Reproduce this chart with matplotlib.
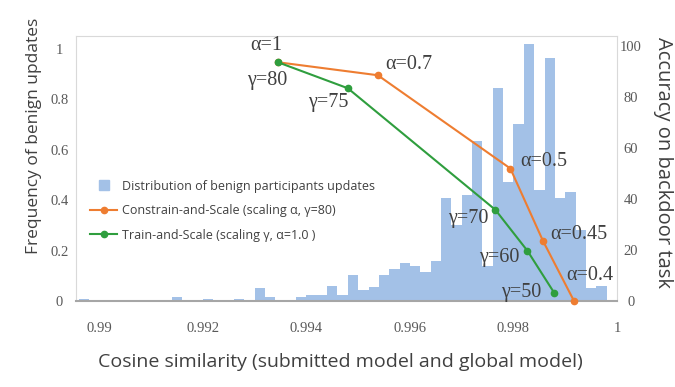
# ----------------------------------------------------------------------------------------------------------------------
#
#       Cosine similarity of benign updates vs. backdoor accuracy
#
# ----------------------------------------------------------------------------------------------------------------------

import numpy as np
import matplotlib.pyplot as plt
from matplotlib.lines import Line2D


# histogram of benign updates (bins of 0.0002 starting at 0.9896)
bin_start = 0.9896
bin_width = 0.0002
freq_benign = [0.007, 0, 0, 0, 0, 0, 0, 0, 0, 0.016,
               0, 0, 0.006, 0, 0, 0.006, 0, 0.053, 0.017, 0,
               0, 0.016, 0.025, 0.025, 0.058, 0.024, 0.104, 0.042, 0.057, 0.105,
               0.125, 0.15, 0.14, 0.113, 0.16, 0.41, 0.30, 0.42, 0.635, 0.14,
               0.843, 0.47, 0.70, 1.02, 0.44, 0.963, 0.41, 0.43, 0.28, 0.05,
               0.06, 0]

# Constrain-and-Scale (scaling alpha, gamma=80)
cs_cos = [0.99345, 0.99538, 0.99794, 0.99857, 0.99917]
cs_acc = [93.7, 88.6, 52.0, 23.6, 0.0]
cs_labels = ['α=1', 'α=0.7', 'α=0.5', 'α=0.45', 'α=0.4']

# Train-and-Scale (scaling gamma, alpha=1.0)
ts_cos = [0.99345, 0.99480, 0.99765, 0.99827, 0.99879]
ts_acc = [93.7, 83.5, 35.8, 19.7, 3.1]
ts_labels = ['γ=80', 'γ=75', 'γ=70', 'γ=60', 'γ=50']

x_ticks = [0.99, 0.992, 0.994, 0.996, 0.998, 1.0]
x_ticklabels = ['0.99', '0.992', '0.994', '0.996', '0.998', '1']
left_ticks = [0, 0.2, 0.4, 0.6, 0.8, 1]
left_ticklabels = ['0', '0.2', '0.4', '0.6', '0.8', '1']
right_ticks = [0, 20, 40, 60, 80, 100]

# label offsets in pixels (text centre relative to point)
cs_offsets = [(-12, 17), (31, 11), (33, 7), (36, 6), (16, 25)]
ts_offsets = [(-11, -18), (-20, -14), (-27, -9), (-28, -7), (-33, 1)]

SANS = 'Open Sans'
SERIF = 'Liberation Serif'
TXT = '#404040'
TICK = '#595959'
BLUE = '#a3c1e7'
ORANGE = '#ee7d31'
GREEN = '#2f9e3e'

fig = plt.figure(figsize=(6.75, 3.87), dpi=100)
ax = fig.add_axes([76 / 675, 1 - 301 / 387, (617 - 76) / 675, (301 - 36) / 387])
ax2 = ax.twinx()

bin_left = bin_start + bin_width * np.arange(len(freq_benign))
ax.bar(bin_left, freq_benign, width=bin_width, align='edge', color=BLUE, linewidth=0)

line_cs, = ax2.plot(cs_cos, cs_acc, color=ORANGE, lw=1.5, marker='o', ms=4.5, clip_on=False)
line_ts, = ax2.plot(ts_cos, ts_acc, color=GREEN, lw=1.5, marker='o', ms=4.5, clip_on=False)

for x, y, t, off in zip(cs_cos, cs_acc, cs_labels, cs_offsets):
    ax2.annotate(t, (x, y), xytext=off, textcoords='offset pixels', ha='center', va='center',
                 fontsize=14.5, family=SERIF, color=TXT)
for x, y, t, off in zip(ts_cos, ts_acc, ts_labels, ts_offsets):
    ax2.annotate(t, (x, y), xytext=off, textcoords='offset pixels', ha='center', va='center',
                 fontsize=14.5, family=SERIF, color=TXT)

ax.set_xlim(0.98955, 1.0)
ax.set_ylim(0, 1.05)
ax2.set_ylim(0, 104)

ax.set_xticks(x_ticks)
ax.set_xticklabels(x_ticklabels, family=SERIF, fontsize=10.5, color=TICK)
ax.set_yticks(left_ticks)
ax.set_yticklabels(left_ticklabels, family=SERIF, fontsize=10.5, color=TICK, ha='center')
ax2.set_yticks(right_ticks)
ax2.set_yticklabels([str(v) for v in right_ticks], family=SERIF, fontsize=10.5, color=TICK, ha='center')
ax.tick_params(axis='x', length=0, pad=15)
ax.tick_params(axis='y', length=0, pad=12)
ax2.tick_params(axis='y', length=0, pad=10)

for s in ['top', 'left', 'right']:
    ax.spines[s].set_color('#d9d9d9')
ax.spines['bottom'].set_color('#a6a6a6')
ax.spines['bottom'].set_linewidth(1.5)
for s in ax2.spines.values():
    s.set_visible(False)

ax.set_xlabel('Cosine similarity (submitted model and global model)', family=SANS, fontsize=14,
              color=TXT, va='center', ha='center')
ax.xaxis.set_label_coords(0.488, -0.23)
ax.set_ylabel('Frequency of benign updates', family=SANS, fontsize=12.5, color=TXT,
              va='center', ha='center')
ax.yaxis.set_label_coords(-0.0776, 0.625)
ax2.set_ylabel('Accuracy on backdoor task', family=SANS, fontsize=14.5, color=TXT,
               rotation=270, va='center', ha='center')
ax2.yaxis.set_label_coords(1.085, 0.521)

# legend handles: square for the histogram, line with dot for the curves
h_bar = Line2D([], [], ls='none', marker='s', ms=7, color=BLUE)
h_cs = Line2D([], [], color=ORANGE, lw=1.5, marker='o', ms=4.5)
h_ts = Line2D([], [], color=GREEN, lw=1.5, marker='o', ms=4.5)
leg = ax2.legend([h_bar, h_cs, h_ts],
                 ['Distribution of benign participants updates',
                  'Constrain-and-Scale (scaling α, γ=80)',
                  'Train-and-Scale (scaling γ, α=1.0 )'],
                 loc='center left', bbox_to_anchor=(0.026, 0.3415), frameon=False,
                 prop={'family': SANS, 'size': 9}, labelspacing=0.92, handlelength=2.16,
                 handletextpad=0.4, borderpad=0, borderaxespad=0)
for t in leg.get_texts():
    t.set_color(TXT)

fig.savefig('out.png', dpi=100)
